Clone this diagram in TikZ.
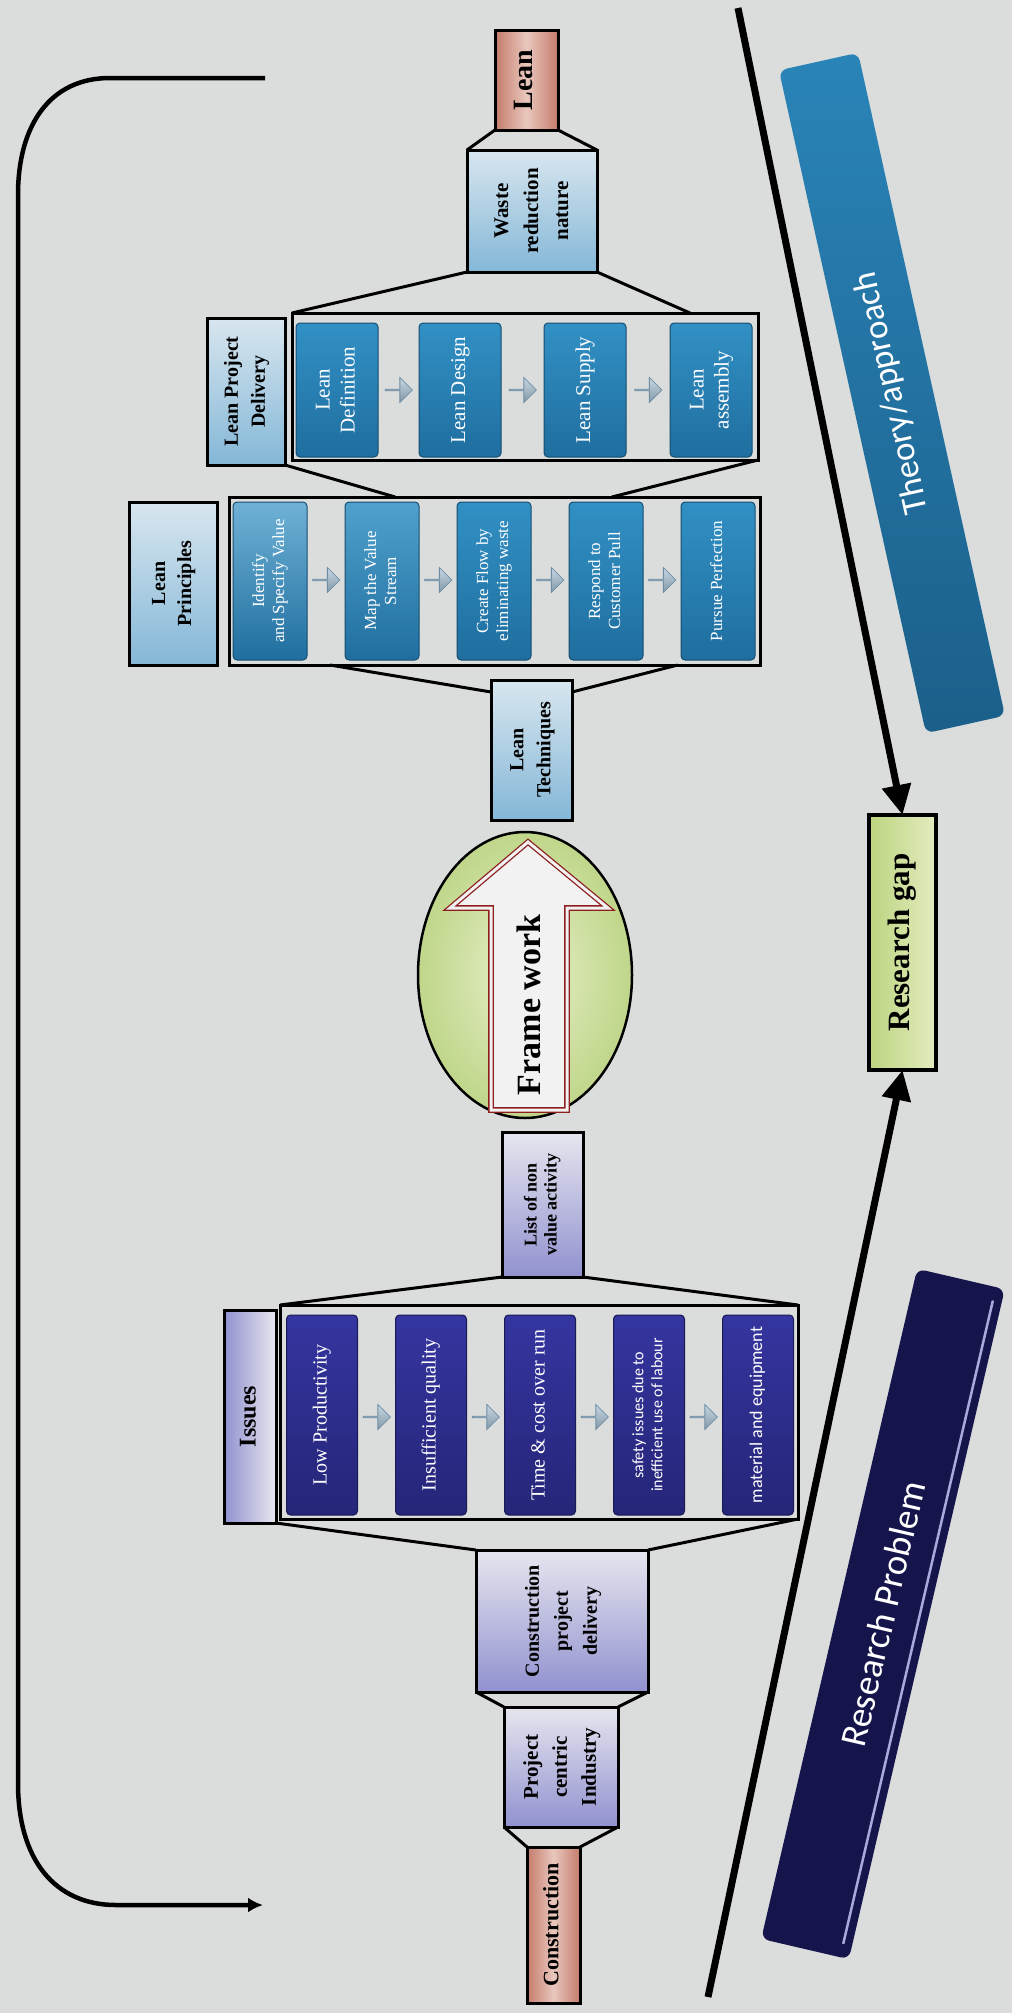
\documentclass[tikz,border=0pt]{standalone}
\usepackage{fontspec}
\setmainfont{Liberation Serif}
\newfontfamily\calib{Carlito}
\usetikzlibrary{shapes.geometric,shapes.arrows,arrows.meta,calc}

\definecolor{bg}{HTML}{DBDDDC}
\definecolor{lavlt}{HTML}{E6E6EF}
\definecolor{lavdk}{HTML}{9191D0}
\definecolor{skylt}{HTML}{D8E6EF}
\definecolor{skydk}{HTML}{84B7D7}
\definecolor{salmid}{HTML}{E9C7BD}
\definecolor{saldk}{HTML}{C47B6B}
\definecolor{indtop}{HTML}{3535A0}
\definecolor{indbot}{HTML}{252578}
\definecolor{teatop}{HTML}{3290C4}
\definecolor{teabot}{HTML}{1F6E9F}
\definecolor{chev}{HTML}{A3BDD0}
\definecolor{chevdk}{HTML}{6E8EA6}
\definecolor{gaplt}{HTML}{E3ECC0}
\definecolor{gapdk}{HTML}{BCD47E}
\definecolor{fwin}{HTML}{E9F0CB}
\definecolor{fwout}{HTML}{BFD68A}
\definecolor{fwred}{HTML}{8E1F1F}
\definecolor{navy}{HTML}{15154C}
\definecolor{navyhl}{HTML}{A9A9DB}
\definecolor{theory}{HTML}{2A84B8}
\definecolor{theorydk}{HTML}{1B5F8A}

% vertical (bottom-to-top) multi-line label: [font]{size}{leading}{lines}
\newcommand{\vlabel}[4][]{\rotatebox{90}{#1\fontsize{#2}{#3}\selectfont\begin{tabular}{@{}c@{}}#4\end{tabular}}}

\begin{document}
\begin{tikzpicture}[x=1pt,y=-1pt,
  every node/.style={inner sep=0pt, outer sep=0pt},
  lbl/.style={draw=black, line width=3pt, font=\bfseries},
  frm/.style={draw=black, line width=3pt},
  lavbox/.style={lbl, top color=lavlt, bottom color=lavdk},
  lavside/.style={lbl, left color=lavdk, right color=lavlt},
  skybox/.style={lbl, top color=skylt, bottom color=skydk},
  salbox/.style={lbl, left color=saldk, right color=saldk, middle color=salmid},
  indbox/.style={draw=indbot!70!black, line width=1pt, rounded corners=4pt, top color=indtop, bottom color=indbot, text=white},
  teabox/.style={draw=teabot!70!black, line width=1pt, rounded corners=4pt, top color=teatop, bottom color=teabot, text=white},
  chevron/.style={single arrow, draw=chevdk, top color=chev!60!white, bottom color=chev!80!black, line width=0.8pt, minimum height=27pt, minimum width=25pt, single arrow head extend=6pt},
  link/.style={line width=3pt},
  bigarrow/.style={line width=7pt, -{Triangle[length=30pt,width=28pt]}},
  bracket/.style={line width=4.5pt, -{Latex[length=15pt,width=15pt]}},
  gapbox/.style={draw=black, line width=4pt, font=\bfseries, left color=gapdk, right color=gaplt},
  rpbar/.style={fill=navy, rounded corners=8pt, text=white},
  thbar/.style={top color=theory, bottom color=theorydk, rounded corners=8pt, text=white},
]
\useasboundingbox (0,0) rectangle (1012,2013);
\fill[bg] (0,0) rectangle (1012,2013);

% ---------- slanted bars ----------
\node[thbar, rotate=102.5, minimum width=679pt, minimum height=81pt] (theorybar) at (892,393)
  {\calib\fontsize{35}{38}\selectfont Theory/approach};
\node[rpbar, rotate=76.9, minimum width=688pt, minimum height=90pt] (rpbar) at (883,1614)
  {\calib\fontsize{37}{40}\selectfont Research Problem};
\draw[navyhl, line width=2.5pt]
  ($($(rpbar.south west)!9pt!(rpbar.north west)$)!0.02!($(rpbar.south east)!9pt!(rpbar.north east)$)$) --
  ($($(rpbar.south west)!9pt!(rpbar.north west)$)!0.98!($(rpbar.south east)!9pt!(rpbar.north east)$)$);

% ---------- lean column (top) ----------
\node[salbox, minimum width=63pt, minimum height=100pt] (lean) at (526.5,80) {\vlabel{28}{32}{Lean}};
\node[skybox, minimum width=130pt, minimum height=122pt] (waste) at (532,211) {\vlabel{21}{30}{Waste\\reduction\\nature}};

% lean project delivery
\node[skybox, minimum width=78pt, minimum height=147pt] (lpdlab) at (246,391.5) {\vlabel{20}{27}{Lean Project\\Delivery}};
\node[frm, minimum width=466pt, minimum height=147pt] (lpdfrm) at (525,386.5) {};
\node[teabox, minimum width=82pt, minimum height=134pt] (ldef) at (337,390) {\vlabel{21}{25}{Lean\\Definition}};
\node[teabox, minimum width=82pt, minimum height=134pt] (ldes) at (460,390) {\vlabel{21}{25}{Lean Design}};
\node[teabox, minimum width=82pt, minimum height=134pt] (lsup) at (585,390) {\vlabel{21}{25}{Lean Supply}};
\node[teabox, minimum width=82pt, minimum height=134pt] (lass) at (711,390) {\vlabel{21}{25}{Lean\\assembly}};
\node[chevron] (la1) at (398.5,390) {};
\node[chevron] (la2) at (522.5,390) {};
\node[chevron] (la3) at (648,390) {};

% lean principles
\node[skybox, minimum width=88pt, minimum height=163pt] (lplab) at (173,583.5) {\vlabel{20}{26}{Lean\\Principles}};
\node[frm, minimum width=531pt, minimum height=168pt] (lpfrm) at (494.5,581) {};
\node[teabox, minimum width=74pt, minimum height=158pt, top color=teatop!70!white] (lp1) at (270,581) {\vlabel{17}{20}{Identify\\and Specify Value}};
\node[teabox, minimum width=74pt, minimum height=158pt, top color=teatop!85!white] (lp2) at (382,581) {\vlabel{17}{20}{Map the Value\\Stream}};
\node[teabox, minimum width=74pt, minimum height=158pt] (lp3) at (494,581) {\vlabel{17}{20}{Create Flow by\\eliminating waste}};
\node[teabox, minimum width=74pt, minimum height=158pt] (lp4) at (606,581) {\vlabel{17}{20}{Respond to\\Customer Pull}};
\node[teabox, minimum width=74pt, minimum height=158pt] (lp5) at (718,581) {\vlabel{17}{20}{Pursue Perfection}};
\node[chevron] (pa1) at (326,580) {};
\node[chevron] (pa2) at (438,580) {};
\node[chevron] (pa3) at (550,580) {};
\node[chevron] (pa4) at (662,580) {};

\node[skybox, minimum width=81pt, minimum height=140pt] (tech) at (531.5,750) {\vlabel{20}{27}{Lean\\Techniques}};

% ---------- frame work ----------
\node[draw=black, line width=2.5pt, ellipse, minimum width=214pt, minimum height=286pt, inner color=fwin, outer color=fwout] (fw) at (525,975) {};
\draw[draw=fwred, line width=1.3pt, double=white!95!black, double distance=3pt, fill=white!95!black, line join=miter]
  (528,842) -- (608,908) -- (567,908) -- (567,1110) -- (491,1110) -- (491,908) -- (450,908) -- cycle;
\node (fwlbl) at (529,1005) {\rotatebox{90}{\bfseries\fontsize{34}{38}\selectfont Frame work}};

% ---------- construction column (bottom) ----------
\node[lavbox, minimum width=81pt, minimum height=145pt] (list) at (542.5,1204.5) {\vlabel{18}{20}{List of non\\value activity}};
\node[lavside, minimum width=52pt, minimum height=213pt] (isslab) at (250,1416.5) {\vlabel{24}{28}{Issues}};
\node[frm, minimum width=518pt, minimum height=214pt] (issfrm) at (539,1412) {};
\node[indbox, minimum width=71pt, minimum height=200pt] (i1) at (322,1415) {\vlabel{20}{23}{Low Productivity}};
\node[indbox, minimum width=71pt, minimum height=200pt] (i2) at (431,1415) {\vlabel{20}{23}{Insufficient quality}};
\node[indbox, minimum width=71pt, minimum height=200pt] (i3) at (540,1415) {\vlabel{20}{23}{Time \& cost over run}};
\node[indbox, minimum width=71pt, minimum height=200pt] (i4) at (649,1415) {\vlabel[\calib]{16}{19}{safety issues due to\\inefficient use of labour}};
\node[indbox, minimum width=71pt, minimum height=200pt] (i5) at (758,1415) {\vlabel[\calib]{18}{20}{material and equipment}};
\node[chevron] (ia1) at (376.5,1417) {};
\node[chevron] (ia2) at (485.5,1417) {};
\node[chevron] (ia3) at (594.5,1417) {};
\node[chevron] (ia4) at (703.5,1417) {};

\node[lavbox, minimum width=172pt, minimum height=142pt] (cpd) at (562,1621) {\vlabel{20}{29}{Construction\\project\\delivery}};
\node[lavbox, minimum width=114pt, minimum height=120pt] (proj) at (561,1767) {\vlabel{21}{29}{Project\\centric\\Industry}};
\node[salbox, minimum width=53pt, minimum height=156pt] (cons) at (553.5,1925) {\vlabel{22}{24}{Construction}};

% ---------- research gap ----------
\node[gapbox, minimum width=67pt, minimum height=255pt] (gap) at (902.5,942.5) {\vlabel{31}{34}{Research gap}};

% ---------- funnel links ----------
\draw[link] (lean.south west) -- (waste.north west);
\draw[link] (lean.south east) -- (waste.north east);
\draw[link] (waste.south west) -- (lpdfrm.north west);
\draw[link] (waste.south east) -- ($(lpdfrm.north west)!0.854!(lpdfrm.north east)$);
\draw[link] (lpdlab.south east) -- ($(lpfrm.north west)!0.313!(lpfrm.north east)$);
\draw[link] (lpdfrm.south east) -- ($(lpfrm.north west)!0.721!(lpfrm.north east)$);
\draw[link] ($(lpfrm.south west)!0.19!(lpfrm.south east)$) -- ([yshift=-12pt]tech.north west);
\draw[link] ($(lpfrm.south west)!0.845!(lpfrm.south east)$) -- ([yshift=-12pt]tech.north east);
\draw[link] (list.south west) -- (issfrm.north west);
\draw[link] (list.south east) -- (issfrm.north east);
\draw[link] (isslab.south east) -- (cpd.north west);
\draw[link] (issfrm.south east) -- (cpd.north east);
\draw[link] (cpd.south west) -- (proj.north west);
\draw[link] (cpd.south east) -- (proj.north east);
\draw[link] (proj.south west) -- (cons.north west);
\draw[link] (proj.south east) -- (cons.north east);

% ---------- arrows into the research gap ----------
\coordinate (thstart) at (738,8);
\coordinate (rpstart) at (708,1997);
\draw[bigarrow] (thstart) -- (gap.north);
\draw[bigarrow] (rpstart) -- (gap.south);

% ---------- feedback bracket on the left ----------
\coordinate (brtop) at (265,78);
\coordinate (brtopc) at (110,78);
\coordinate (brup) at (18,195);
\coordinate (brlow) at (18,1783);
\coordinate (brbotc) at (116,1905);
\coordinate (brend) at (263,1905);
\draw[bracket] (brtop) -- (brtopc) .. controls (50,78) and (18,125) .. (brup) -- (brlow)
  .. controls (18,1860) and (55,1905) .. (brbotc) -- (brend);
\end{tikzpicture}
\end{document}
